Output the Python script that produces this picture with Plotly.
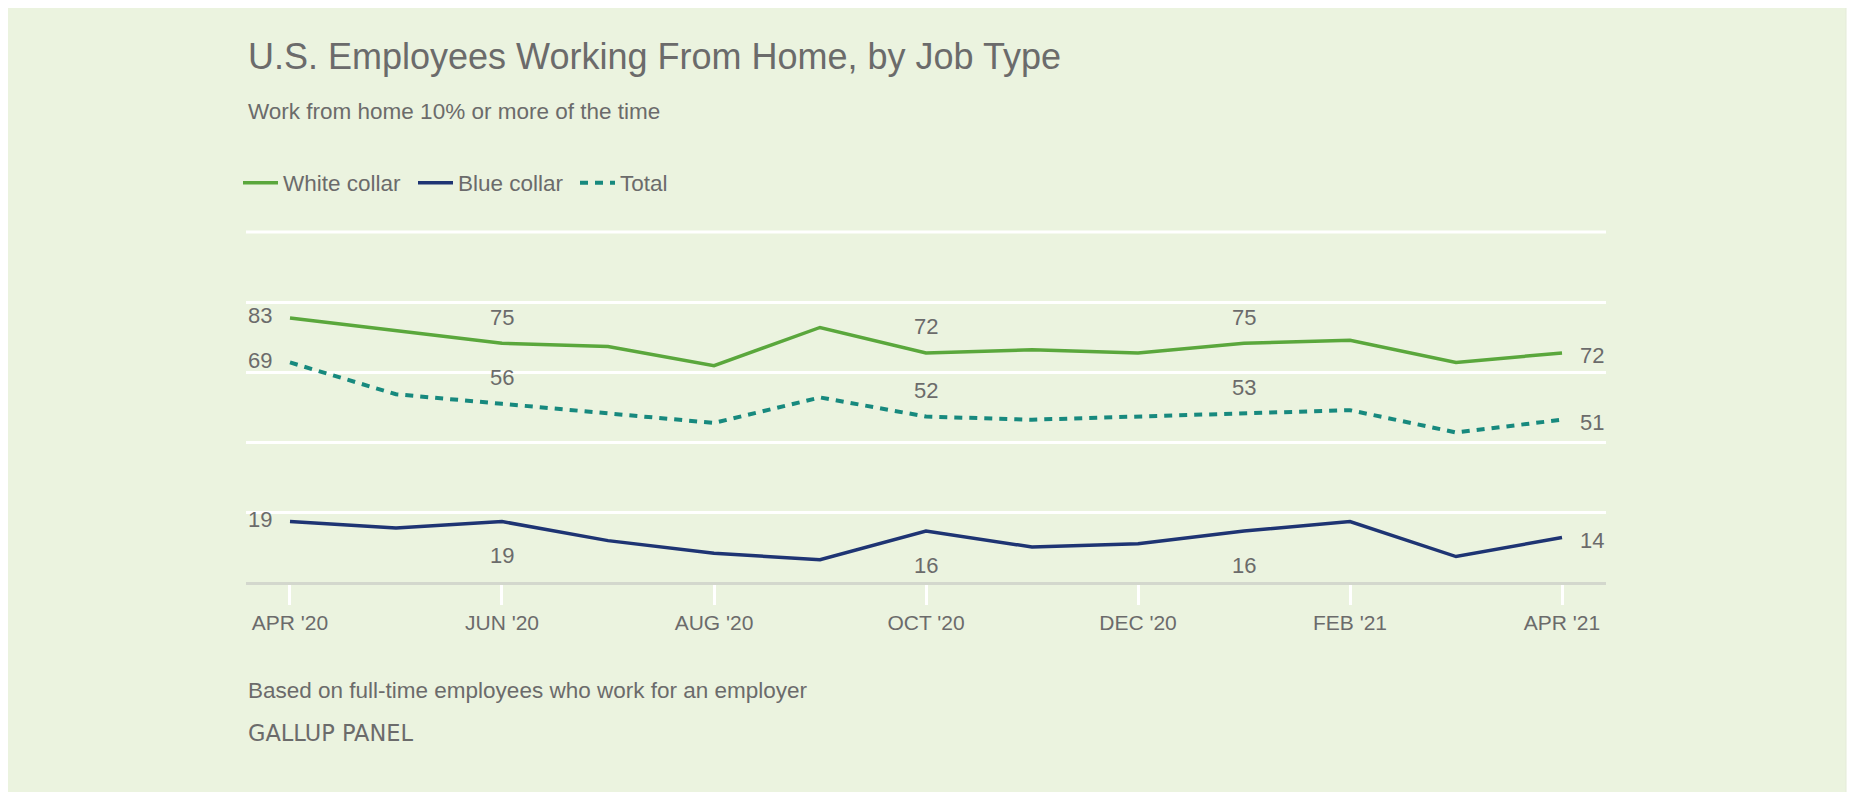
import plotly.graph_objects as go

months = ["Apr 2020", "May 2020", "Jun 2020", "Jul 2020", "Aug 2020", "Sep 2020",
          "Oct 2020", "Nov 2020", "Dec 2020", "Jan 2021", "Feb 2021", "Mar 2021", "Apr 2021"]
white_collar = [83, 79, 75, 74, 68, 80, 72, 73, 72, 75, 76, 69, 72]
blue_collar = [19, 17, 19, 13, 9, 7, 16, 11, 12, 16, 19, 8, 14]
total = [69, 59, 56, 53, 50, 58, 52, 51, 52, 53, 54, 47, 51]
tick_months = ["Apr 2020", "Jun 2020", "Aug 2020", "Oct 2020", "Dec 2020", "Feb 2021", "Apr 2021"]
tick_labels = ["APR '20", "JUN '20", "AUG '20", "OCT '20", "DEC '20", "FEB '21", "APR '21"]
label_months = ["Jun 2020", "Oct 2020", "Jan 2021"]

GREEN = "#5aa73c"
NAVY = "#1e3473"
TEAL = "#17897e"
TXT = "#6b6b6b"
BG = "#ebf3df"
FONT = "Liberation Sans, Arial, sans-serif"

# figure coordinates = page coordinates - 8 (body margin)
W, H = 1850, 784
L, R, T, B = 238, 252, 224, 210
PH = H - T - B
PW = W - L - R

fig = go.Figure()
fig.add_trace(go.Scatter(x=months, y=white_collar, name="White collar", mode="lines",
                         line=dict(color=GREEN, width=3.5), legend="legend"))
fig.add_trace(go.Scatter(x=months, y=blue_collar, name="Blue collar", mode="lines",
                         line=dict(color=NAVY, width=3.5), legend="legend2"))
fig.add_trace(go.Scatter(x=months, y=total, name="Total", mode="lines",
                         line=dict(color=TEAL, width=4, dash="8px,7px"), legend="legend3"))

ann = []
def lab(x, y, text, **kw):
    d = dict(x=x, y=y, text=text, showarrow=False, font=dict(size=22, color=TXT, family=FONT))
    d.update(kw)
    ann.append(d)

series = [(white_collar, 26, 2, -3), (total, 26, 2, -3), (blue_collar, -34, 2, -3)]
for vals, mid_shift, start_shift, end_shift in series:
    lab(0, vals[0], str(vals[0]), xref="paper", yref="y", xanchor="left", yanchor="middle", yshift=start_shift)
    lab(1, vals[-1], str(vals[-1]), xref="paper", yref="y", xanchor="right", yanchor="middle", yshift=end_shift)
    for m in label_months:
        i = months.index(m)
        lab(m, vals[i], str(vals[i]), xref="x", yref="y", xanchor="center", yanchor="middle", yshift=mid_shift)

def ptext(ypix, text, size, family=FONT, **kw):
    d = dict(x=0, xref="paper", xanchor="left", y=(H - B - ypix) / PH, yref="paper", yanchor="middle",
             text=text, showarrow=False, font=dict(size=size, color=TXT, family=family))
    d.update(kw)
    ann.append(d)

ptext(48, "U.S. Employees Working From Home, by Job Type", 36)
ptext(103, "Work from home 10% or more of the time", 22.5)
ptext(682, "Based on full-time employees who work for an employer", 22.5)
ptext(725, "GALLUP PANEL", 22.5, family="DejaVu Sans, sans-serif")

def leg(xpx):
    return dict(orientation="h", x=(xpx - L) / PW, xanchor="left", y=1 + (T - 175) / PH, yanchor="middle",
                font=dict(size=22.5, color=TXT, family=FONT), bgcolor="rgba(0,0,0,0)", itemwidth=35)

fig.update_layout(
    width=W, height=H,
    margin=dict(l=L, r=R, t=T, b=B),
    paper_bgcolor="white",
    plot_bgcolor=BG,
    font=dict(family=FONT, color=TXT),
    showlegend=True,
    legend=leg(230), legend2=leg(405), legend3=leg(567),
    annotations=ann,
    shapes=[dict(type="rect", xref="paper", yref="paper", layer="below",
                 x0=(-3 - L) / PW, x1=(1838 - L) / PW, y0=(H - B - 800) / PH, y1=(H - B + 5) / PH,
                 fillcolor=BG, line=dict(color="#e4ebd8", width=1)),
            dict(type="line", xref="paper", yref="paper", layer="below",
                 x0=0, x1=1, y0=1, y1=1, line=dict(color="white", width=3))],
    hovermode=False,
)
fig.update_xaxes(type="category", range=[-0.415, 12.415], tickmode="array",
                 tickvals=tick_months, ticktext=tick_labels, showgrid=False,
                 showline=True, linecolor="#d3d7cd", linewidth=3,
                 ticks="outside", ticklen=20, tickwidth=3, tickcolor="white",
                 ticklabelstandoff=0,
                 tickfont=dict(size=21, color=TXT, family=FONT), zeroline=False)
fig.update_yaxes(range=[0, 110], tickmode="array", tickvals=[22, 44, 66, 88],
                 showticklabels=False, showgrid=True, gridcolor="white", gridwidth=3,
                 zeroline=False, showline=False, ticks="")

fig.write_html("out.html")
